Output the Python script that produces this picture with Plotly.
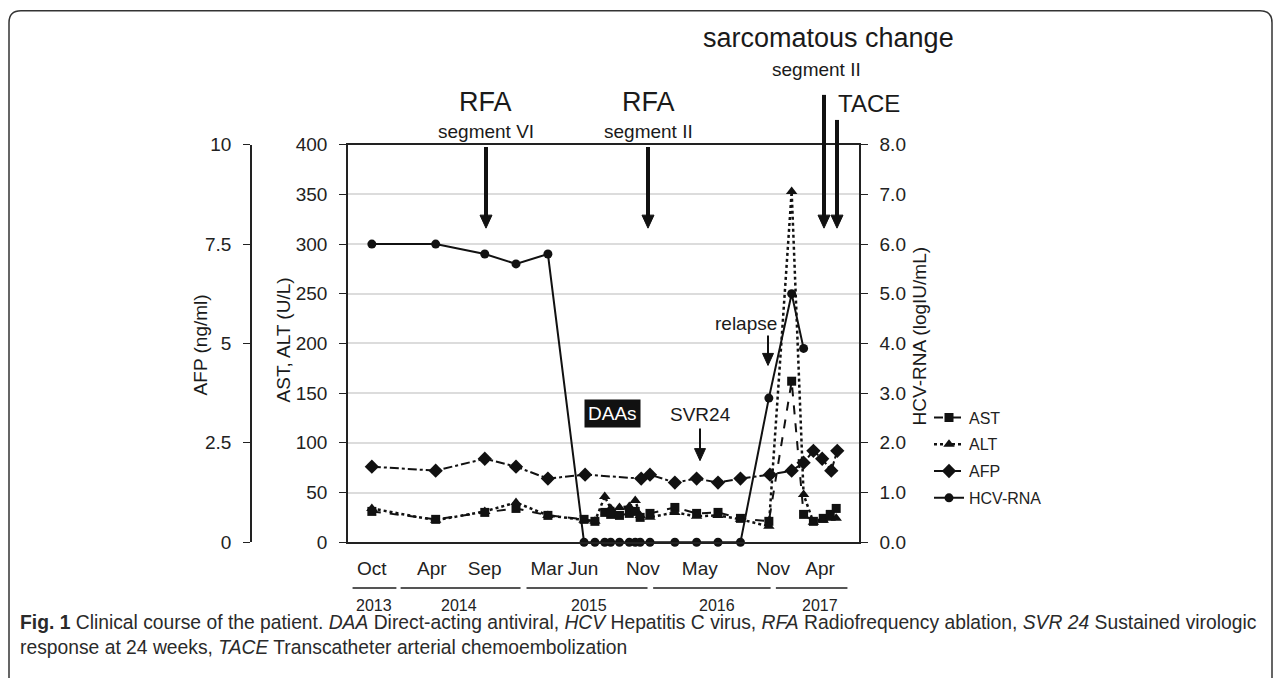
import plotly.graph_objects as go

W, H = 1281, 678

# ---------------- data ----------------
dates = ["2013-10-15", "2014-04-15", "2014-09-02", "2014-11-30", "2015-03-01",
         "2015-06-12", "2015-07-13", "2015-08-10", "2015-08-27", "2015-09-21",
         "2015-10-19", "2015-11-05", "2015-11-19", "2015-12-17", "2016-02-26",
         "2016-04-28", "2016-06-28", "2016-08-31", "2016-11-20", "2017-01-24",
         "2017-02-27", "2017-03-27", "2017-04-24", "2017-05-14", "2017-05-31"]
ast = [31, 23, 30, 34, 27, 23, 21, 30, 28, 27, 29, 31, 25, 29, 35, 29, 30, 24, 21,
       162, 28, 21, 24, 28, 34]
alt = [34, 22, 31, 40, 27, 22, 21, 46, 34, 35, 36, 42, 27, 25, 30, 26, 27, 23, 16,
       353, 48, 20, 22, 24, 24]

afp_dates = ["2013-10-15", "2014-04-15", "2014-09-02", "2014-11-30", "2015-03-01",
             "2015-06-15", "2015-11-22", "2015-12-17", "2016-02-26", "2016-04-28",
             "2016-06-28", "2016-08-31", "2016-11-23", "2017-01-24", "2017-02-27",
             "2017-03-27", "2017-04-21", "2017-05-17", "2017-06-03"]
afp = [1.9, 1.8, 2.1, 1.9, 1.6, 1.7, 1.6, 1.7, 1.5, 1.6, 1.5, 1.6, 1.7, 1.8, 2.0,
       2.3, 2.1, 1.8, 2.3]

hcv_dates = dates[:21]
hcv = [6.0, 6.0, 5.8, 5.6, 5.8, 0, 0, 0, 0, 0, 0, 0, 0, 0, 0, 0, 0, 0, 2.9, 5.0, 3.9]

month_ticks = ["2013-10-15", "2014-04-04", "2014-09-02", "2015-02-26", "2015-06-09",
               "2015-11-27", "2016-05-07", "2016-12-02", "2017-04-15"]
month_labels = ["Oct", "Apr", "Sep", "Mar", "Jun", "Nov", "May", "Nov", "Apr"]
years = ["2013", "2014", "2015", "2016", "2017"]
year_start = ["2013-08-21", "2014-01-05", "2014-12-30", "2015-12-26", "2016-12-10"]
year_end = ["2013-12-24", "2014-12-13", "2015-12-10", "2016-11-25", "2017-07-02"]
year_label_x = ["2013-10-20", "2014-06-20", "2015-06-25", "2016-06-25", "2017-04-15"]

x_range = ["2013-08-08", "2017-08-04"]

# vertical calibration of the captured page
V_OFF, V_SCALE = 10.3, 0.967


def px(x):
    return x / W


def py(y):
    return 1 - ((y - V_OFF) / V_SCALE) / H


X0, X1 = 348, 859
Y0, Y1 = 541.4, 144.7

fig = go.Figure()
BLACK = "#111111"
fig.add_trace(go.Scatter(x=dates, y=ast, name="AST", mode="lines+markers", yaxis="y",
                         line=dict(color=BLACK, width=2, dash="dash"),
                         marker=dict(symbol="square", size=9, color=BLACK), cliponaxis=False,
                         legendgroup="a"))
fig.add_trace(go.Scatter(x=dates, y=alt, name="ALT", mode="lines+markers", yaxis="y",
                         line=dict(color=BLACK, width=2.5, dash="dot"),
                         marker=dict(symbol="triangle-up", size=10, color=BLACK), cliponaxis=False,
                         legendgroup="b"))
fig.add_trace(go.Scatter(x=afp_dates, y=afp, name="AFP", mode="lines+markers", yaxis="y3",
                         line=dict(color=BLACK, width=2, dash="dashdot"),
                         marker=dict(symbol="diamond", size=11, color=BLACK), cliponaxis=False,
                         legendgroup="c"))
fig.add_trace(go.Scatter(x=hcv_dates, y=hcv, name="HCV-RNA", mode="lines+markers", yaxis="y2",
                         line=dict(color=BLACK, width=2),
                         marker=dict(symbol="circle", size=9, color=BLACK), cliponaxis=False,
                         legendgroup="d"))

tickfont = dict(family="Liberation Sans, Arial, sans-serif", size=19, color="#222")

fig.update_layout(
    width=W, height=H, margin=dict(l=0, r=0, t=0, b=0),
    paper_bgcolor="white", plot_bgcolor="white",
    font=dict(family="Liberation Sans, Arial, sans-serif", color="#222"),
    xaxis=dict(type="date", domain=[px(X0), px(X1)], range=x_range,
               tickvals=month_ticks, ticktext=month_labels, ticks="",
               tickfont=tickfont, showgrid=False, showline=True, linecolor="#222",
               linewidth=1.5, mirror=True, ticklabelstandoff=8, zeroline=False),
    yaxis=dict(domain=[py(Y0), py(Y1)], range=[0, 400], dtick=50, tickfont=tickfont,
               showline=True, linecolor="#222", linewidth=1.5, mirror=True,
               ticks="outside", ticklen=7, tickcolor="#222", tickwidth=1.2,
               gridcolor="#dcdcdc", gridwidth=1.5, zeroline=False, ticklabelstandoff=8),
    yaxis2=dict(overlaying="y", side="right", anchor="x", range=[0, 8], dtick=1,
                tickformat=".1f", tickfont=tickfont, showline=True, linecolor="#222",
                linewidth=1.5, ticks="outside", ticklen=7, tickcolor="#222", tickwidth=1.2,
                showgrid=False, zeroline=False, ticklabelstandoff=8),
    yaxis3=dict(overlaying="y", side="left", anchor="free", position=px(251),
                range=[0, 10], tickvals=[0, 2.5, 5, 7.5, 10],
                ticktext=["0", "2.5", "5", "7.5", "10"], tickfont=tickfont,
                showline=True, linecolor="#222", linewidth=1.5, ticks="outside",
                ticklen=7, tickcolor="#222", tickwidth=1.2, showgrid=False,
                zeroline=False, ticklabelstandoff=8),
    legend=dict(x=px(929), y=py(400), xanchor="left", yanchor="top",
                font=dict(size=16, color="#222"), tracegroupgap=3,
                bgcolor="rgba(0,0,0,0)"),
    showlegend=True,
)

shapes = []
# frame with rounded top corners
r = 12
shapes.append(dict(type="path", xref="paper", yref="paper",
                   path=(f"M {px(9)} {py(700)} L {px(9)} {py(11 + r)} "
                         f"Q {px(9)} {py(11)} {px(9 + r)} {py(11)} "
                         f"L {px(1272 - r)} {py(11)} Q {px(1272)} {py(11)} {px(1272)} {py(11 + r)} "
                         f"L {px(1272)} {py(700)}"),
                   line=dict(color="#333", width=1.5)))

# year bars
for s, e in zip(year_start, year_end):
    shapes.append(dict(type="line", xref="x", yref="paper", x0=s, x1=e,
                       y0=py(587), y1=py(587), line=dict(color="#555", width=2)))


def arrow(x, y_top, y_tip, shaft=4, head_w=12, head_l=13):
    shapes.append(dict(type="line", xref="paper", yref="paper", x0=px(x), x1=px(x),
                       y0=py(y_top), y1=py(y_tip - head_l + 1),
                       line=dict(color=BLACK, width=shaft)))
    shapes.append(dict(type="path", xref="paper", yref="paper",
                       path=(f"M {px(x - head_w / 2)} {py(y_tip - head_l)} "
                             f"L {px(x + head_w / 2)} {py(y_tip - head_l)} "
                             f"L {px(x)} {py(y_tip)} Z"),
                       fillcolor=BLACK, line=dict(color=BLACK, width=1)))


arrow(486, 147, 228)
arrow(648, 147, 228)
arrow(824, 95, 228)
arrow(837, 120, 228)
arrow(700, 428, 460, shaft=2, head_w=11, head_l=12)
arrow(768, 335, 365, shaft=2, head_w=11, head_l=12)

fig.update_layout(shapes=shapes)

ann = []


def text(x, y, t, size, **kw):
    d = dict(x=px(x), y=py(y), xref="paper", yref="paper", text=t, showarrow=False,
             font=dict(size=size, color="#1a1a1a"), xanchor="center", yanchor="middle")
    d.update(kw)
    ann.append(d)


text(486, 102, "RFA", 27)
text(486, 132, "segment VI", 19)
text(648, 102, "RFA", 27)
text(648, 132, "segment II", 19)
text(828, 38, "sarcomatous change", 27)
text(816, 70, "segment II", 19)
text(836, 104, "TACE", 24, xanchor="left")
text(746, 323, "relapse", 19)
text(700, 414, "SVR24", 19)
text(612, 413, "DAAs", 19, bgcolor=BLACK, font=dict(size=19, color="white"), borderpad=3)

text(200, 345, "AFP (ng/ml)", 19, textangle=-90)
text(283, 340, "AST, ALT (U/L)", 19, textangle=-90)
text(919, 336, "HCV-RNA (logIU/mL)", 19, textangle=-90)

for lbl, xd in zip(years, year_label_x):
    ann.append(dict(x=xd, y=py(605), xref="x", yref="paper", text=lbl, showarrow=False,
                    font=dict(size=16, color="#222"), xanchor="center", yanchor="middle"))

cap_font = dict(size=19.3, color="#2a2a2a", family="Liberation Sans, Arial, sans-serif")
ann.append(dict(x=px(18), y=py(622), xref="paper", yref="paper", showarrow=False,
                xanchor="left", yanchor="middle", font=cap_font,
                text=("<b>Fig. 1</b> Clinical course of the patient. <i>DAA</i> Direct-acting antiviral, "
                      "<i>HCV</i> Hepatitis C virus, <i>RFA</i> Radiofrequency ablation, "
                      "<i>SVR 24</i> Sustained virologic")))
ann.append(dict(x=px(18), y=py(646), xref="paper", yref="paper", showarrow=False,
                xanchor="left", yanchor="middle", font=cap_font,
                text="response at 24 weeks, <i>TACE</i> Transcatheter arterial chemoembolization"))

fig.update_layout(annotations=ann)

fig.write_html("out.html", config={"displayModeBar": False},
               post_script="document.body.style.margin='0px';")
